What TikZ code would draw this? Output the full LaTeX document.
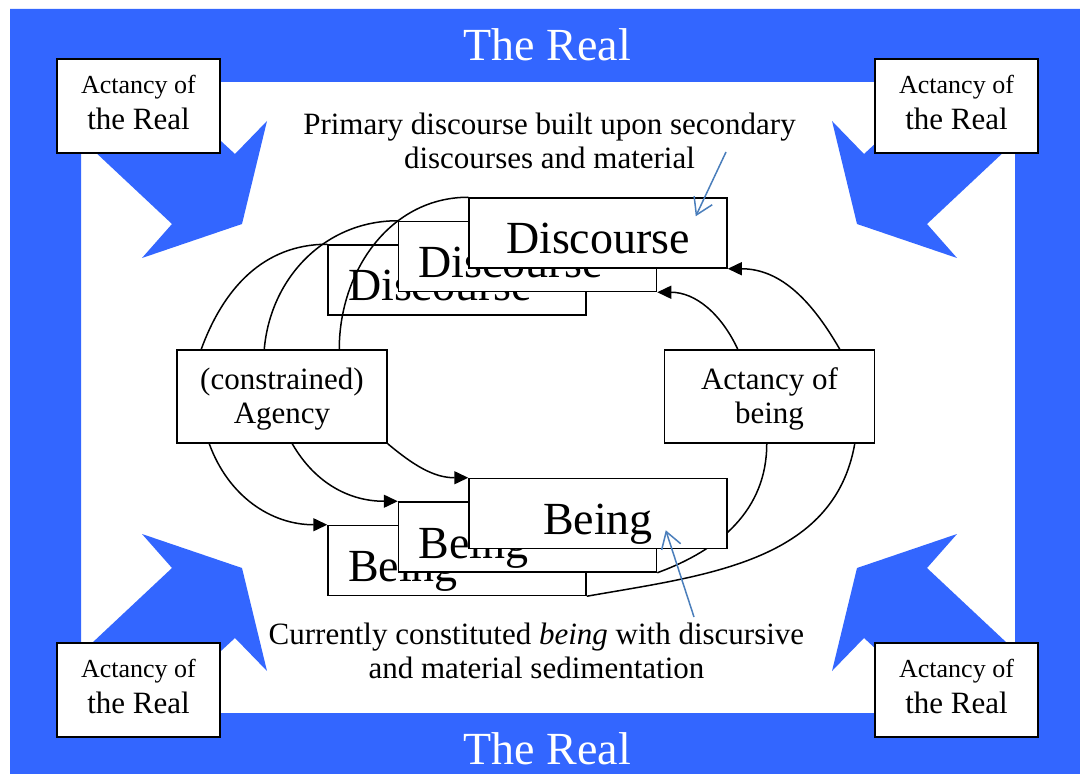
\documentclass[tikz,border=0pt]{standalone}
\usepackage{fontspec}
\setmainfont{Liberation Serif}
\usetikzlibrary{arrows.meta}
\usetikzlibrary{positioning}
\definecolor{realblue}{RGB}{51,102,255}
\definecolor{notecolor}{RGB}{74,126,187}
\newcommand{\realgap}{\rule[-4pt]{0pt}{4pt}}
\newcommand{\actortop}{\rule{0pt}{13.7pt}}
\tikzset{
  cornerbox/.style={draw, line width=1.2pt, fill=white, minimum width=81.5pt,
    minimum height=47pt, align=center, inner sep=0pt,
    font=\fontsize{15.5}{18}\selectfont},
  actorbox/.style={draw, line width=0.75pt, fill=white, minimum width=105pt,
    minimum height=46.5pt, align=center, inner sep=0pt,
    font=\fontsize{15.5}{17}\selectfont},
  stackbox/.style={draw, line width=0.75pt, fill=white, text width=109pt,
    inner xsep=10pt, inner ysep=0pt, text height=28pt, text depth=7pt,
    align=left, font=\fontsize{23}{27}\selectfont},
  frontbox/.style={stackbox, align=center},
  link/.style={line width=0.75pt},
  push/.style={link, -{Triangle[length=7pt,width=6.5pt]}},
  note/.style={notecolor, line width=0.75pt, -{Straight Barb[length=8pt,width=10pt]}},
  notetext/.style={align=center, font=\fontsize{15.5}{17}\selectfont},
  realtext/.style={white, anchor=base, font=\fontsize{23}{27}\selectfont},
}

\begin{document}
\begin{tikzpicture}[x=0.5pt, y=-0.5pt]
    \useasboundingbox (0,0) rectangle (1080,774);

    % the real, all around
    \fill[realblue, even odd rule] (10,9) rectangle (1080,774) (81,82) rectangle (1015,713);
    \node[realtext] (realtop) at (547.5,61) {The Real};
    \node[realtext] (realbottom) at (547.5,764) {The Real};

    % corner arrows
    \fill[realblue] (76,134) -- (172,224) -- (142,258) -- (242,224) -- (267,121) -- (235,154) -- (195,117) -- cycle;
    \fill[realblue] (1023,134) -- (927,224) -- (957,258) -- (857,224) -- (832,121) -- (864,154) -- (904,117) -- cycle;
    \fill[realblue] (76,658) -- (172,568) -- (142,534) -- (242,568) -- (267,671) -- (235,638) -- (195,675) -- cycle;
    \fill[realblue] (1023,658) -- (927,568) -- (957,534) -- (857,568) -- (832,671) -- (864,638) -- (904,675) -- cycle;

    \node[cornerbox] (realtl) at (138.5,106) {{\fontsize{13}{18}\selectfont Actancy of}\\the Real\realgap};
    \node[cornerbox] (realtr) at (956.5,106) {{\fontsize{13}{18}\selectfont Actancy of}\\the Real\realgap};
    \node[cornerbox] (realbl) at (138.5,690) {{\fontsize{13}{18}\selectfont Actancy of}\\the Real\realgap};
    \node[cornerbox] (realbr) at (956.5,690) {{\fontsize{13}{18}\selectfont Actancy of}\\the Real\realgap};

    \node[actorbox] (agency) at (282,396.5) {\actortop(constrained)\\Agency};
    \node[actorbox] (actbeing) at (769.5,396.5) {\actortop Actancy of\\being};

    % discourse stack
    \node[stackbox] (disc1) at (457,280) {Discourse};
    \node[stackbox] (disc2) at (527.5,256.5) {Discourse};
    \node[frontbox] (disc3) at (598,233) {Discourse};

    % being stack, front box covers the curves
    \node[stackbox] (being1) at (457,560.5) {Being};
    \node[stackbox] (being2) at (527.5,537) {Being};
    \draw[link] ([xshift=51.5pt]actbeing.south west) to[out=-90,in=20] (being2.south east);
    \draw[link] ([xshift=95.5pt]actbeing.south west) to[out=-100,in=10] (being1.south east);
    \node[frontbox] (being3) at (598,513.5) {Being};

    \draw[link] ([xshift=12.5pt]agency.north west) to[out=70,in=180] (disc1.north west);
    \draw[link] ([xshift=44pt]agency.north west) to[out=85,in=180] (disc2.north west);
    \draw[link] ([xshift=81.5pt]agency.north west) to[out=90,in=180] (disc3.north west);

    \draw[push] ([xshift=16.5pt]agency.south west) to[out=-70,in=180] (being1.north west);
    \draw[push] ([xshift=58pt]agency.south west) to[out=-60,in=180] (being2.north west);
    \draw[push] (agency.south east) to[out=-40,in=180] (being3.north west);

    \draw[push] ([xshift=37pt]actbeing.north west) to[out=115,in=0] (disc2.south east);
    \draw[push] ([xshift=88pt]actbeing.north west) to[out=120,in=0] (disc3.south east);

    % notes
    \node[notetext] (primnote) at (549.5,141) {Primary discourse built upon secondary\\discourses and material};
    \node[notetext] (beingnote) at (536.5,650.5) {Currently constituted \textit{being} with discursive\\and material sedimentation};
    \coordinate (primfoot) at (726,152);
    \coordinate (beingfoot) at (694,617);
    \draw[note] (primfoot) -- ([xshift=-16pt,yshift=-9.5pt]disc3.north east);
    \draw[note] (beingfoot) -- ([xshift=-31pt,yshift=9.5pt]being3.south east);
\end{tikzpicture}
\end{document}
